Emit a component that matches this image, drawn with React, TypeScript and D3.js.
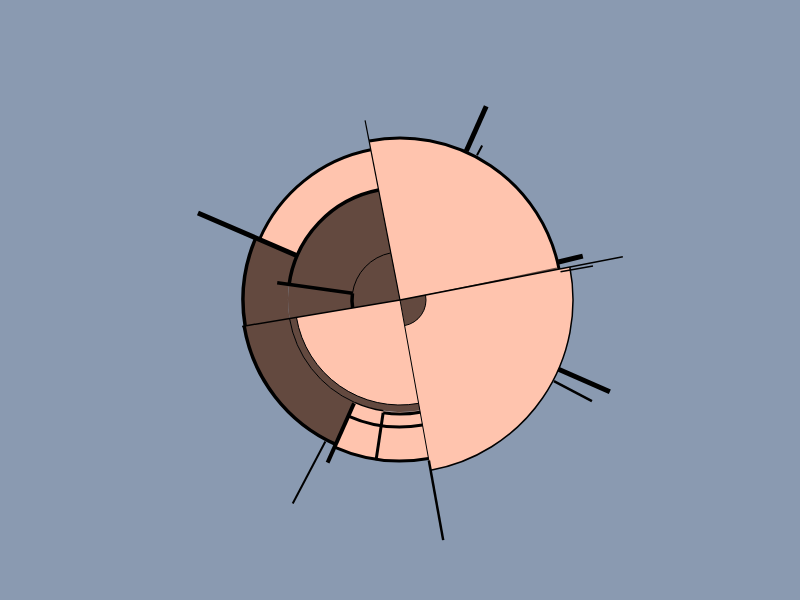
import React from "react";
import * as d3 from "d3";

// Angles in degrees clockwise from 12 o'clock, radii in chart units
const PINK = "#ffc4ae";
const BROWN = "#63493f";
const BG = "#8a9ab1";

// filled sectors: [startAngle, endAngle, innerRadius, outerRadius, colour]
const sectorStart = [-11, 79, 79, 169.8, 169.8, 169.8, 204, 260.5, 260.5, 293.3, 78.3];
const sectorEnd = [79, 169.8, 169.8, 260.5, 204, 260.5, 260.5, 349, 293.3, 349, 79];
const sectorInner = [0, 0, 0, 0, 112, 105, 112, 0, 112, 112, 0];
const sectorOuter = [162, 173, 26, 105, 161, 112, 158, 112, 157, 153, 160];
const sectorColour = [PINK, PINK, BROWN, PINK, PINK, BROWN, BROWN, BROWN, BROWN, PINK, BROWN];

// outline arcs: [startAngle, endAngle, radius, width]
const arcStart = [-11, 79, 79, 169.8, 169.8, 188.5, 204, 169.8, 169.8, 204, 260.5, 293.3, 278, 260.5, 278];
const arcEnd = [79, 169.8, 169.8, 260.5, 188.5, 204, 260.5, 204, 204, 260.5, 293.3, 349, 349, 278, 349];
const arcRadius = [162, 173, 26, 105, 114, 112, 112, 127, 161, 158, 157, 153, 112, 48, 48];
const arcWidth = [3, 1.5, 1, 1, 3, 1.5, 1, 3, 3, 3.5, 3.5, 3, 3.5, 3.5, 1];

// radial strokes: [angle, fromRadius, toRadius, width]
const rayAngle = [-11, 79, 169.8, 169.8, 260.5, 24, 28, 76.5, 80, 113.6, 117.8, 204, 207.8, 293.3, 278, 188.5];
const rayFrom = [0, 0, 0, 163, 0, 163, 164, 163, 163, 173, 174, 113, 160, 112, 48, 114];
const rayTo = [183, 227, 163, 244, 160, 212, 175, 188, 196, 229, 217, 178, 230, 220, 124, 162];
const rayWidth = [1.2, 1.5, 1, 2.5, 1.5, 5, 2, 5, 1.5, 5, 2.5, 4, 2, 5, 3.5, 3];

export default function App() {
  const width = 800;
  const height = 600;
  const cx = 400;
  const cy = 300;
  const ang = d3.scaleLinear().domain([0, 360]).range([0, 2 * Math.PI]);
  const rad = d3.scaleLinear().domain([0, 250]).range([0, 250]);

  const sectorArc = d3.arc<any>();
  const sectors = sectorStart.map((s, i) =>
    sectorArc({
      startAngle: ang(s),
      endAngle: ang(sectorEnd[i]),
      innerRadius: rad(sectorInner[i]),
      outerRadius: rad(sectorOuter[i]),
    }) as string
  );

  const outlines = arcStart.map((s, i) => {
    const p = d3.path();
    const r = rad(arcRadius[i]);
    const a0 = ang(s) - Math.PI / 2;
    const a1 = ang(arcEnd[i]) - Math.PI / 2;
    p.moveTo(r * Math.cos(a0), r * Math.sin(a0));
    p.arc(0, 0, r, a0, a1, false);
    return p.toString();
  });

  const rays = rayAngle.map((a, i) => {
    const t = ang(a);
    const r0 = rad(rayFrom[i]);
    const r1 = rad(rayTo[i]);
    return {
      x1: r0 * Math.sin(t),
      y1: -r0 * Math.cos(t),
      x2: r1 * Math.sin(t),
      y2: -r1 * Math.cos(t),
      w: rayWidth[i],
    };
  });

  return (
    <div style={{ position: "fixed", left: 0, top: 0, width, height }}>
      <svg width={width} height={height} style={{ display: "block" }}>
        <rect width={width} height={height} fill={BG} />
        <g transform={`translate(${cx},${cy})`}>
          {sectors.map((d, i) => (
            <path key={"s" + i} d={d} fill={sectorColour[i]} />
          ))}
          {outlines.map((d, i) => (
            <path key={"a" + i} d={d} fill="none" stroke="#000" strokeWidth={arcWidth[i]} />
          ))}
          {rays.map((r, i) => (
            <line
              key={"r" + i}
              x1={r.x1}
              y1={r.y1}
              x2={r.x2}
              y2={r.y2}
              stroke="#000"
              strokeWidth={r.w}
            />
          ))}
        </g>
      </svg>
    </div>
  );
}
